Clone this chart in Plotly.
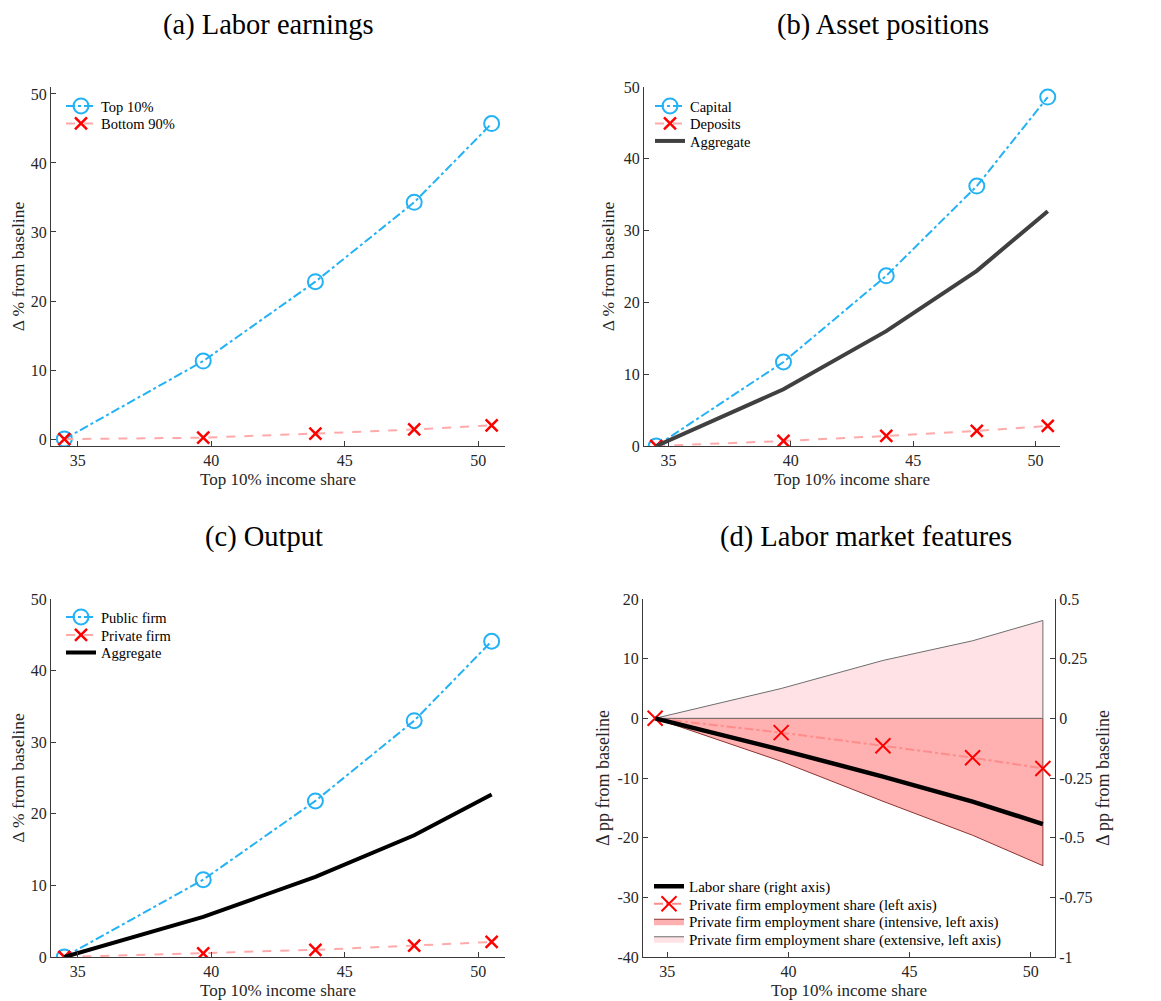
import plotly.graph_objects as go

# ---------------- data ----------------
top_share = [34.5, 39.7, 43.9, 47.6, 50.5]

# (a) Labor earnings
earn_top10 = [0.0, 11.3, 22.8, 34.3, 45.7]
earn_bottom90 = [0.0, 0.2, 0.8, 1.4, 2.0]

# (b) Asset positions
asset_capital = [0.0, 11.7, 23.7, 36.2, 48.6]
asset_deposits = [0.0, 0.7, 1.4, 2.1, 2.8]
asset_aggregate = [0.0, 7.9, 16.0, 24.4, 32.7]

# (c) Output
out_public = [0.0, 10.8, 21.8, 33.0, 44.1]
out_private = [0.0, 0.5, 1.0, 1.6, 2.1]
out_aggregate = [0.0, 5.6, 11.2, 17.0, 22.7]

# (d) Labor market features
labor_share = [0.0, -0.132, -0.244, -0.349, -0.443]       # right axis
priv_emp_share = [0.0, -2.4, -4.6, -6.6, -8.4]             # left axis
priv_emp_intensive = [0.0, -7.2, -13.9, -19.6, -24.7]      # left axis
priv_emp_extensive = [0.0, 5.0, 9.7, 13.0, 16.4]           # left axis

x_ticks = [35, 40, 45, 50]
y_ticks_abc = [0, 10, 20, 30, 40, 50]
y_ticks_d_left = [-40, -30, -20, -10, 0, 10, 20]
y_ticks_d_left_text = ["-40", "-30", "-20", "-10", "0", "10", "20"]
y_ticks_d_right = [-1, -0.75, -0.5, -0.25, 0, 0.25, 0.5]
y_ticks_d_right_text = ["-1", "-0.75", "-0.5", "-0.25", "0", "0.25", "0.5"]

# ---------------- style ----------------
FONT = "Liberation Serif"
BLUE = "rgb(35,178,245)"
RED = "rgb(255,0,0)"
PINK = "rgb(255,170,170)"
AXC = "#3a3a3a"
TXT = "#262626"

# page body has an 8px margin; the figure is sized to fill the rest of the window
OFF = 8
W, H = 1161 - OFF, 1001 - OFF


def px(v):
    return (v - OFF) / W


def py(v):
    return 1 - (v - OFF) / H


def xd(a, b):
    return [px(a), px(b)]


def yd(top, bottom):
    return [py(bottom), py(top)]


fig = go.Figure()


def blue_circ(x, y, name, xa, ya, leg):
    fig.add_trace(go.Scatter(x=x, y=y, name=name, mode="lines+markers",
                             line=dict(color=BLUE, width=2, dash="dashdot"),
                             marker=dict(symbol="circle-open", size=15, color=BLUE,
                                         line=dict(width=2, color=BLUE)),
                             xaxis=xa, yaxis=ya, legend=leg))


def red_x(x, y, name, xa, ya, leg):
    fig.add_trace(go.Scatter(x=x, y=y, name=name, mode="lines+markers",
                             line=dict(color=PINK, width=2, dash="dash"),
                             marker=dict(symbol="x-thin-open", size=12, color=RED,
                                         line=dict(width=2.5, color=RED)),
                             xaxis=xa, yaxis=ya, legend=leg))


# (a)
blue_circ(top_share, earn_top10, "Top 10%", "x", "y", "legend")
red_x(top_share, earn_bottom90, "Bottom 90%", "x", "y", "legend2")

# (b)
blue_circ(top_share, asset_capital, "Capital", "x2", "y2", "legend3")
red_x(top_share, asset_deposits, "Deposits", "x2", "y2", "legend4")
fig.add_trace(go.Scatter(x=top_share, y=asset_aggregate, name="Aggregate", mode="lines",
                         line=dict(color="#404040", width=4),
                         xaxis="x2", yaxis="y2", legend="legend5"))

# (c)
blue_circ(top_share, out_public, "Public firm", "x3", "y3", "legend6")
red_x(top_share, out_private, "Private firm", "x3", "y3", "legend7")
fig.add_trace(go.Scatter(x=top_share, y=out_aggregate, name="Aggregate", mode="lines",
                         line=dict(color="black", width=4),
                         xaxis="x3", yaxis="y3", legend="legend8"))

# (d) polygons closed along the zero line
poly_x = top_share + [top_share[-1], top_share[0]]
ext_y = priv_emp_extensive + [0, 0]
int_y = priv_emp_intensive + [0, 0]

fig.add_trace(go.Scatter(x=poly_x, y=int_y, name="Private firm employment share (intensive, left axis)",
                         mode="lines", fill="toself", fillcolor="rgb(255,176,176)",
                         line=dict(color="rgb(140,50,50)", width=1),
                         xaxis="x4", yaxis="y4", legend="legend11"))
fig.add_trace(go.Scatter(x=poly_x, y=ext_y, name="Private firm employment share (extensive, left axis)",
                         mode="lines", fill="toself", fillcolor="rgb(255,226,229)",
                         line=dict(color="rgb(110,110,110)", width=1),
                         xaxis="x4", yaxis="y4", legend="legend12"))
fig.add_trace(go.Scatter(x=top_share, y=labor_share, name="Labor share (right axis)", mode="lines",
                         line=dict(color="black", width=4.5),
                         xaxis="x4", yaxis="y5", legend="legend9"))
fig.add_trace(go.Scatter(x=top_share, y=priv_emp_share, name="Private firm employment share (left axis)",
                         mode="lines+markers",
                         line=dict(color="rgb(255,140,140)", width=2, dash="dashdot"),
                         marker=dict(symbol="x-thin-open", size=15, color=RED, line=dict(width=2, color=RED)),
                         xaxis="x4", yaxis="y4", legend="legend10"))

axis_common = dict(showline=True, linecolor=AXC, linewidth=1, ticks="inside", ticklen=5,
                   tickcolor=AXC, showgrid=False, zeroline=False, mirror=False, automargin=False,
                   tickfont=dict(family=FONT, size=16, color=TXT))
xt = dict(text="Top 10% income share", font=dict(family=FONT, size=17, color=TXT), standoff=4)
yt = dict(text="Δ % from baseline", font=dict(family=FONT, size=17.5, color=TXT), standoff=4)
ydt = dict(text="Δ pp from baseline", font=dict(family=FONT, size=18, color=TXT), standoff=3)

xa_dom = xd(51, 505)
xb_dom = xd(644, 1060)
xd_dom = xd(643, 1055)
ytop = yd(87, 446)
ybot = yd(599, 957)


def leg(text_x, row_y, size=14.5):
    return dict(x=px(text_x - 41), y=py(row_y), xanchor="left", yanchor="middle",
                font=dict(family=FONT, size=size, color="black"), bgcolor="rgba(0,0,0,0)",
                borderwidth=0, itemwidth=30)


legends = dict(
    legend=leg(102, 106), legend2=leg(102, 123.5),
    legend3=leg(691, 106), legend4=leg(691, 123.5), legend5=leg(691, 141),
    legend6=leg(102, 617), legend7=leg(102, 635), legend8=leg(102, 652.5),
    legend9=leg(690, 886.5, 15), legend10=leg(690, 904, 15),
    legend11=leg(690, 921.5, 15), legend12=leg(690, 939, 15),
)

TITLE_FONT = dict(family=FONT, size=28.5, color="black")


def title(text, x, y):
    return dict(text=text, x=px(x), y=py(y), xref="paper", yref="paper", showarrow=False,
                font=TITLE_FONT, xanchor="center", yanchor="middle")


fig.update_layout(
    width=W, height=H,
    margin=dict(l=0, r=0, t=0, b=0),
    paper_bgcolor="white", plot_bgcolor="white",
    font=dict(family=FONT, color=TXT),
    showlegend=True,
    xaxis=dict(domain=xa_dom, anchor="y", range=[34, 51], tickvals=x_ticks, title=xt, **axis_common),
    yaxis=dict(domain=ytop, anchor="x", range=[-1, 51], tickvals=y_ticks_abc, title=yt, **axis_common),
    xaxis2=dict(domain=xb_dom, anchor="y2", range=[34, 51], tickvals=x_ticks, title=xt, **axis_common),
    yaxis2=dict(domain=ytop, anchor="x2", range=[0, 50], tickvals=y_ticks_abc, title=yt, **axis_common),
    xaxis3=dict(domain=xa_dom, anchor="y3", range=[34, 51], tickvals=x_ticks, title=xt, **axis_common),
    yaxis3=dict(domain=ybot, anchor="x3", range=[0, 50], tickvals=y_ticks_abc, title=yt, **axis_common),
    xaxis4=dict(domain=xd_dom, anchor="y4", range=[34, 51], tickvals=x_ticks, title=xt, **axis_common),
    yaxis4=dict(domain=ybot, anchor="x4", range=[-40, 20], tickvals=y_ticks_d_left,
                ticktext=y_ticks_d_left_text, title=ydt, **axis_common),
    yaxis5=dict(domain=ybot, anchor="x4", overlaying="y4", side="right", range=[-1, 0.5],
                tickvals=y_ticks_d_right, ticktext=y_ticks_d_right_text, title=ydt, **axis_common),
    annotations=[
        title("(a) Labor earnings", 268, 25),
        title("(b) Asset positions", 883, 25),
        title("(c) Output", 264, 537),
        title("(d) Labor market features", 866, 537),
    ],
    **legends,
)

fig.write_html("out.html")
